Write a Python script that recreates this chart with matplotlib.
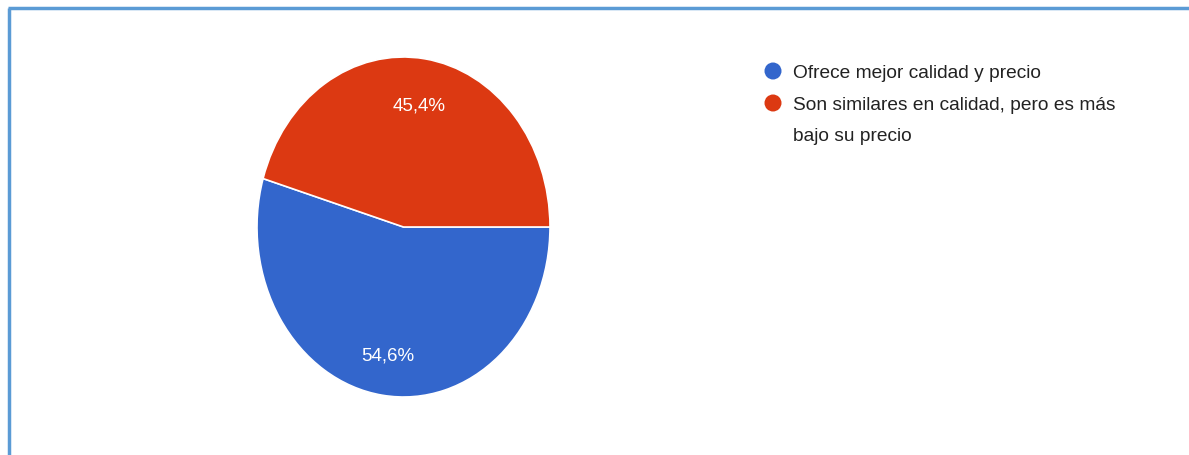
import matplotlib
matplotlib.use("Agg")
import matplotlib.pyplot as plt
import matplotlib.transforms as mtransforms
from matplotlib.patches import Circle

plt.rcParams['font.family'] = ['Liberation Sans', 'DejaVu Sans']

labels = ["Ofrece mejor calidad y precio",
          "Son similares en calidad, pero es más\nbajo su precio"]
shares = [54.6, 45.4]
colors = ["#3366CC", "#DC3912"]

W, H = 1189, 456
fig = plt.figure(figsize=(W / 100, H / 100), dpi=100)
fig.patch.set_facecolor("white")

# background layer in pixel units for the frame and the legend
bg = fig.add_axes([0, 0, 1, 1])
bg.set_xlim(0, W)
bg.set_ylim(H, 0)
bg.axis("off")
bg.plot([9, 9], [9, H], color="#5B9BD5", lw=2.5, solid_capstyle="butt")
bg.plot([8, W], [9, 9], color="#5B9BD5", lw=2.5, solid_capstyle="butt")

# pie, slightly taller than wide
left, right, top, bottom = 257, 550, 58, 398
ax = fig.add_axes([left / W, (H - bottom) / H, (right - left) / W, (bottom - top) / H])
wedges, _, autotexts = ax.pie(
    shares, colors=colors, startangle=360 * shares[1] / 100, counterclock=True,
    autopct=lambda p: f"{p:.1f}%".replace(".", ","), pctdistance=0.745,
    wedgeprops=dict(edgecolor="white", linewidth=1.2),
    textprops=dict(color="white", fontsize=13.5))
ax.set_aspect("auto")
ax.set_xlim(-1, 1)
ax.set_ylim(-1, 1)

# nudge the percentage labels a few pixels down
shift = mtransforms.ScaledTranslation(0, -3 / 100, fig.dpi_scale_trans)
for t in autotexts:
    t.set_transform(t.get_transform() + shift)

# legend, one text per line
ys = [72, 104]
for y, c, lab in zip(ys, colors, labels):
    bg.add_patch(Circle((773, y), 8.5, color=c, lw=0))
    for i, line in enumerate(lab.split("\n")):
        bg.text(793, y + 2 + 31 * i, line, fontsize=13.8, color="#222222",
                va="center", ha="left")

fig.savefig("out.png", dpi=100)
